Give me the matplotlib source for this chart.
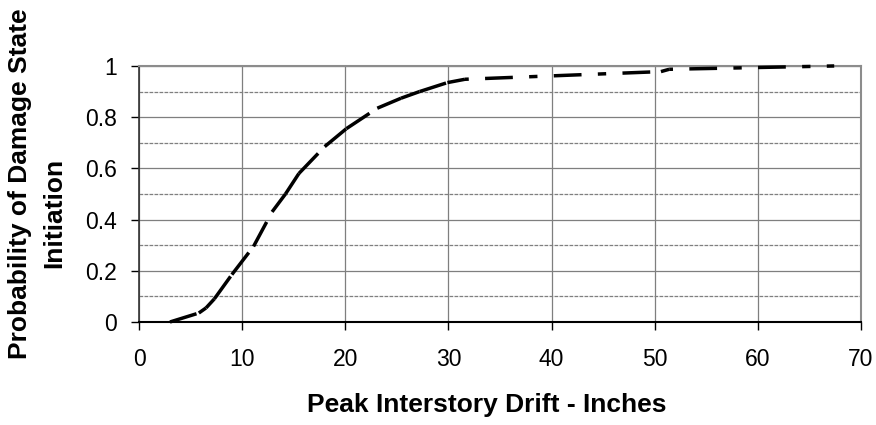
import matplotlib.pyplot as plt
import numpy as np

plt.rcParams['font.family'] = ['Liberation Sans', 'DejaVu Sans']

# curve
drift = [3.0, 5.8, 6.5, 7.3, 9.0, 11.1, 12.9, 14.2, 15.5, 18.0, 20.1, 23.1,
         25.4, 27.2, 29.9, 31.6, 50.6, 51.4, 67.4]
prob = [0.0, 0.035, 0.055, 0.09, 0.185, 0.295, 0.43, 0.50, 0.58, 0.685,
        0.755, 0.835, 0.874, 0.90, 0.935, 0.948, 0.978, 0.987, 1.0]

x_ticks = [0, 10, 20, 30, 40, 50, 60, 70]
y_ticks = [0, 0.2, 0.4, 0.6, 0.8, 1]
y_tick_labels = ['0', '0.2', '0.4', '0.6', '0.8', '1']

fig = plt.figure(figsize=(8.76, 4.25), dpi=100)
ax = fig.add_axes([0.1587, 0.2424, 0.8242, 0.6024])

# long dash - dot, pattern restarts on every segment like excel does
pattern = (8, 4.7, 2.4, 4.7)
for k in range(len(drift) - 1):
    # long flat runs start a bit into the pattern
    off = 14.0 if drift[k + 1] - drift[k] > 5 else 0
    ax.plot(drift[k:k + 2], prob[k:k + 2], color='black', lw=2.5,
            linestyle=(off, pattern), dash_capstyle='butt',
            clip_on=False, zorder=3)

ax.set_xlim(0, 70)
ax.set_ylim(0, 1)
ax.set_xticks(x_ticks)
ax.set_yticks(y_ticks)
ax.set_yticklabels(y_tick_labels)
ax.set_yticks(np.arange(0.1, 1.0, 0.2), minor=True)

ax.grid(True, which='major', color='#7f7f7f', lw=0.9)
ax.grid(True, which='minor', axis='y', color='#7f7f7f', lw=0.9,
        linestyle=(0, (3, 1)))
ax.tick_params(which='minor', length=0)
ax.tick_params(which='major', labelsize=16.5, length=6, width=1,
               direction='out', color='black')
ax.tick_params(axis='y', pad=10)
ax.tick_params(axis='x', pad=12.5)

for side in ['top', 'right']:
    ax.spines[side].set_color('#8c8c8c')
    ax.spines[side].set_linewidth(1.5)
ax.spines['left'].set_color('#333333')
ax.spines['left'].set_linewidth(1.2)
ax.spines['bottom'].set_color('black')
ax.spines['bottom'].set_linewidth(1.5)

ax.set_xlabel('Peak Interstory Drift - Inches', fontsize=19, fontweight='bold')
ax.xaxis.set_label_coords(0.482, -0.277)

# two line y title, the lines are not centred on each other in the original
fig.text(0.0228, 0.567, 'Probability of Damage State', rotation=90,
         ha='center', va='center', fontsize=19, fontweight='bold')
fig.text(0.0616, 0.499, 'Initiation', rotation=90,
         ha='center', va='center', fontsize=19, fontweight='bold')

fig.savefig('out.png', dpi=100)
